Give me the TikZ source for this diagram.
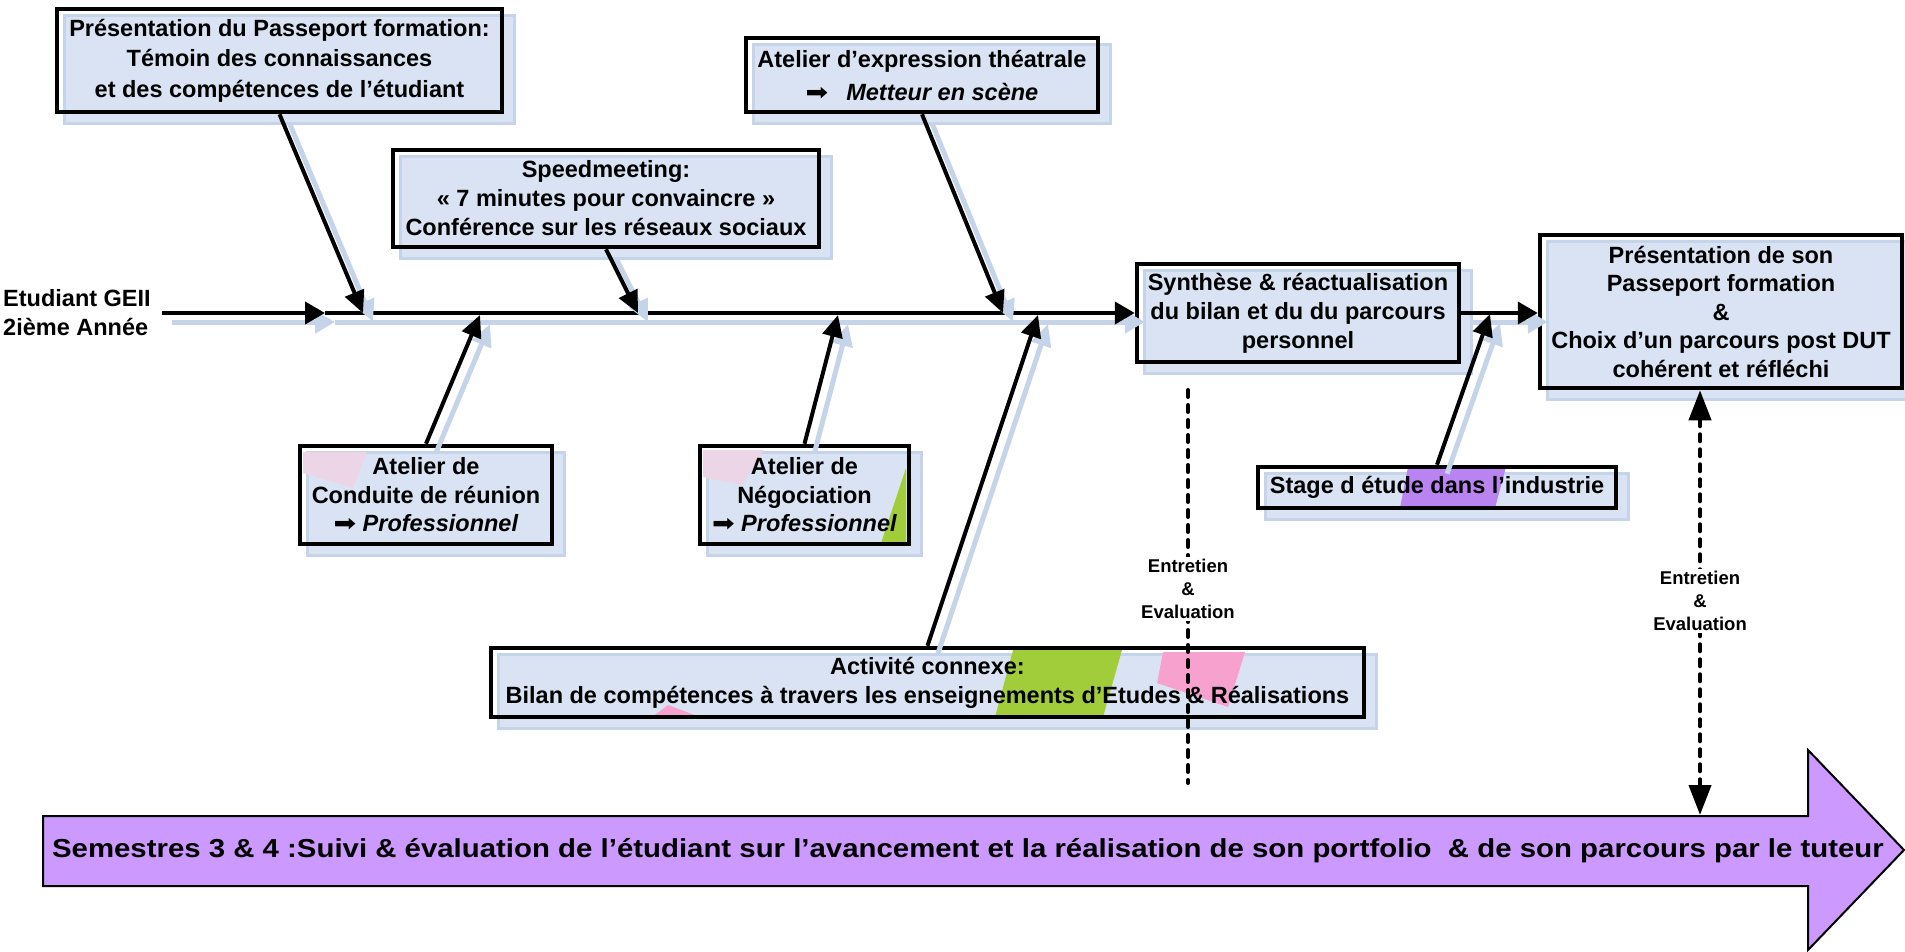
\documentclass[tikz,border=0pt]{standalone}
\usepackage{fontspec}
\setmainfont{Liberation Sans}
\newfontfamily\symfont{DejaVu Sans}
\usetikzlibrary{arrows.meta,backgrounds}

\definecolor{boxblue}{HTML}{DAE3F3}
\definecolor{shadeblue}{HTML}{C6D4EA}
\definecolor{lilac}{HTML}{CC99FF}
\definecolor{rosepink}{HTML}{F7A1CF}
\definecolor{palepink}{HTML}{EDD5E8}
\definecolor{leafgreen}{HTML}{A2CD3A}
\definecolor{mauve}{HTML}{B983F2}

\newcommand{\fl}{{\symfont\mdseries\scalebox{1.15}[1]{➡}}}

\tikzset{
  box/.style={draw, line width=4.5pt, inner sep=0pt, align=center,
    font=\bfseries\fontsize{23.5}{29}\selectfont},
  petit/.style={fill=white, inner sep=2pt, align=center,
    font=\bfseries\fontsize{18.5}{23}\selectfont},
  lien/.style={line width=4pt, -{Triangle[length=22pt,width=20pt]},
    preaction={draw=shadeblue, line width=5pt, transform canvas={shift={(10pt,-9pt)}}}},
  axe/.style={line width=4pt, -{Triangle[length=20pt,width=22pt]},
    preaction={draw=shadeblue, line width=5pt, transform canvas={shift={(10pt,-9pt)}}}},
  pointille/.style={line width=4pt, dash pattern=on 7pt off 8pt, line cap=round}
}

\begin{document}
\begin{tikzpicture}[x=1pt,y=-1pt]
\useasboundingbox (0,0) rectangle (1905,951);

%Boxes
\node[box, minimum width=445pt, minimum height=103pt, font=\bfseries\fontsize{23.5}{30.5}\selectfont] (pass) at (279.5,60.5) {Présentation du Passeport formation:\\Témoin des connaissances\\et des compétences de l’étudiant};
\node[box, minimum width=426pt, minimum height=97pt] (speed) at (606,198.5) {Speedmeeting:\\« 7 minutes pour convaincre »\\Conférence sur les réseaux sociaux};
\node[box, minimum width=352pt, minimum height=74pt, font=\bfseries\fontsize{23.5}{33}\selectfont] (theatre) at (922,75) {Atelier d’expression théatrale\\\fl\hspace{18pt}\textit{Metteur en scène}};
\node[box, minimum width=322pt, minimum height=98pt] (synth) at (1298,313) {Synthèse \& réactualisation\\du bilan et du du parcours\\personnel};
\node[box, minimum width=362pt, minimum height=153pt, font=\bfseries\fontsize{23.5}{28.5}\selectfont] (final) at (1721,311.5) {Présentation de son\\Passeport formation\\\&\\Choix d’un parcours post DUT\\cohérent et réfléchi};
\node[box, minimum width=358pt, minimum height=41pt] (stage) at (1437,487.5) {Stage d étude dans l’industrie};
\node[box, minimum width=252pt, minimum height=98pt, font=\bfseries\fontsize{23.5}{28.5}\selectfont] (conduite) at (426,495) {Atelier de\\Conduite de réunion\\\fl\ \textit{Professionnel}};
\node[box, minimum width=209pt, minimum height=98pt, font=\bfseries\fontsize{23.5}{28.5}\selectfont] (nego) at (804.5,495) {Atelier de\\Négociation\\\fl\ \textit{Professionnel}};
\node[box, minimum width=873pt, minimum height=69pt] (activite) at (927.5,682.5) {Activité connexe:\\Bilan de compétences à travers les enseignements d’Etudes \& Réalisations};

%Shadows and clip-art
\begin{scope}[on background layer]
\foreach \b in {pass,speed,theatre,synth,final,stage,conduite,nego,activite}
  \filldraw[fill=boxblue, draw=shadeblue, line width=3pt] ([shift={(10pt,-9pt)}]\b.south west) rectangle ([shift={(10pt,-9pt)}]\b.north east);
\fill[palepink] (303,452) -- (367,452) -- (353,488) -- (303,473) -- cycle;
\fill[palepink] (703,450) -- (764,450) -- (742,485) -- (703,477) -- cycle;
\fill[leafgreen] (906,468) -- (906,543) -- (881,543) -- cycle;
\fill[mauve] (1408,467) -- (1506,467) -- (1495,508) -- (1400,508) -- cycle;
\fill[leafgreen] (1013,650) -- (1122,650) -- (1103,717) -- (995,717) -- cycle;
\fill[rosepink] (1163,652) -- (1245,652) -- (1228,707) -- (1157,683) -- cycle;
\fill[rosepink] (652,717) -- (668,705) -- (700,717) -- cycle;
\end{scope}

%Spine
\node[anchor=west, align=left, inner sep=0pt, font=\bfseries\fontsize{23.5}{29}\selectfont] (etudiant) at (3,313) {Etudiant GEII\\2ième Année};
\coordinate (depart) at (162,313);
\coordinate (milieu) at (325,313);
\draw[axe] (depart) -- (milieu);
\draw[axe] (milieu) -- (synth.west);
\draw[axe] (synth.east) -- (final.west |- synth.east);

%Connectors
\coordinate (tpass) at (363,313);
\coordinate (tspeed) at (638,313);
\coordinate (ttheatre) at (1003,313);
\coordinate (tconduite) at (480,315);
\coordinate (tnego) at (838,315);
\coordinate (tactivite) at (1038,315);
\coordinate (tstage) at (1490,314);
\draw[lien] (pass.south) -- (tpass);
\draw[lien] (speed.south) -- (tspeed);
\draw[lien] (theatre.south) -- (ttheatre);
\draw[lien] (conduite.north) -- (tconduite);
\draw[lien] (nego.north) -- (tnego);
\draw[lien] (activite.north) -- (tactivite);
\draw[lien] (stage.north) -- (tstage);

%Semestres arrow
\draw[line width=2pt, fill=lilac] (43,816) -- (1808,816) -- (1808,750) -- (1904,850) -- (1808,950) -- (1808,886) -- (43,886) -- cycle;
\node[font=\bfseries\fontsize{26}{31}\selectfont] (suivi) at (968,851) {\scalebox{1.13}[1]{Semestres 3 \& 4 :Suivi \& évaluation de l’étudiant sur l’avancement et la réalisation de son portfolio ~\& de son parcours par le tuteur}};

%Entretien
\coordinate (enthaut) at (1188,390);
\coordinate (entbas) at (1188,783);
\coordinate (evalbas) at (1700,815);
\draw[pointille] (enthaut) -- (entbas);
\draw[pointille, {Triangle[length=30pt,width=22pt]}-{Triangle[length=30pt,width=22pt]}] (final.south -| evalbas) -- (evalbas);
\node[petit] (entretien) at (1188,589) {Entretien\\\&\\Evaluation};
\node[petit] (evaluation) at (1700,601) {Entretien\\\&\\Evaluation};
\end{tikzpicture}
\end{document}
